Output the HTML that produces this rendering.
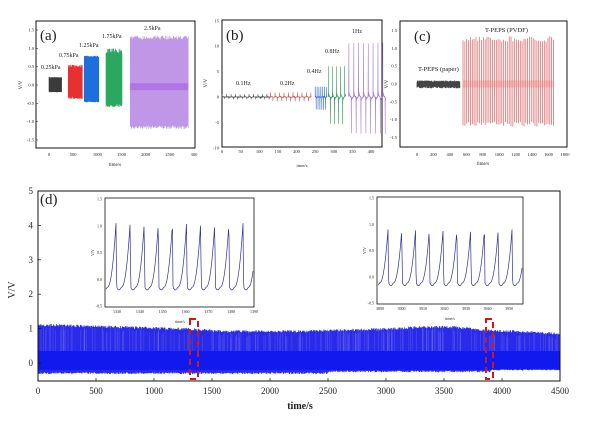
<!DOCTYPE html>
<html><head><meta charset="utf-8"><style>
body{margin:0;background:#fff;width:600px;height:426px;overflow:hidden}
svg{display:block}
text{font-family:"Liberation Serif",serif;fill:#222}
</style></head><body>
<svg id="s" width="600" height="426" xmlns="http://www.w3.org/2000/svg">
<g id="g"></g>
</svg>
<script>
(function(){
var NS="http://www.w3.org/2000/svg",G=document.getElementById('g');
var seed=7;function R(){seed=(seed*16807)%2147483647;return seed/2147483647;}
function el(t,a,txt){var e=document.createElementNS(NS,t);for(var k in a)e.setAttribute(k,a[k]);if(txt!=null)e.textContent=txt;G.appendChild(e);return e;}
function txt(x,y,s,fs,anc,extra){var a={x:x,y:y,'font-size':fs,'text-anchor':anc||'middle'};if(extra)for(var k in extra)a[k]=extra[k];return el('text',a,s);}
function frame(x0,y0,x1,y1,w){el('rect',{x:x0,y:y0,width:x1-x0,height:y1-y0,fill:'none',stroke:'#111','stroke-width':w||1});}
function path(d,c,w,o){el('path',{d:d,fill:'none',stroke:c,'stroke-width':w||0.5,'stroke-opacity':o==null?1:o});}
function mk(x0,xs,y0,ys){return {X:function(v){return x0+v*xs},Y:function(v){return y0-v*ys}};}
function band(A,t0,t1,n,hi,lo,col,w,op,jit){var d='';for(var i=0;i<n;i++){var t=t0+(t1-t0)*i/(n-1);var h=hi*(1-jit*R()),l=lo*(1-jit*R());d+='M'+A.X(t).toFixed(1)+' '+A.Y(h).toFixed(1)+'V'+A.Y(l).toFixed(1);}path(d,col,w,op);}

// ---------- (a) ----------
frame(36,21,195,148);
var A=mk(49,145/3000,85,110/3);
[1.5,1,0.5,0,-0.5,-1,-1.5].forEach(function(v){var y=A.Y(v);el('line',{x1:36,x2:38,y1:y,y2:y,stroke:'#111','stroke-width':0.5});txt(34,y+1.5,v.toFixed(1),4.5,'end');});
[0,500,1000,1500,2000,2500,3000].forEach(function(v){var x=A.X(v);txt(x,156,v==3000?'300':v,4.5);});
txt(115,166,'time/s',5);
txt(22,85,'V/V',5,'middle',{transform:'rotate(-90 22 85)'});
txt(40,40,'(a)',15,'start');
band(A,0,260,40,0.22,-0.2,'#3a3a3a',0.6,1,0.1);
band(A,400,690,70,0.55,-0.38,'#e83030',0.6,1,0.15);
band(A,730,1030,70,0.8,-0.47,'#1e6fdc',0.6,1,0.05);
band(A,1180,1510,70,1.0,-0.6,'#2aa860',0.6,1,0.15);
band(A,1680,2880,110,1.35,-1.2,'#b07ce0',0.6,0.8,0.08);
el('rect',{x:A.X(1680),y:A.Y(0.05),width:A.X(2880)-A.X(1680),height:7,fill:'#8a2be2','fill-opacity':0.3});
txt(41,69,'0.25kPa',6,'start');txt(59,57,'0.75kPa',6,'start');txt(79,47,'1.25kPa',6,'start');txt(102,38,'1.75kPa',6,'start');txt(144,30,'2.5kPa',6,'start');

// ---------- (b) ----------
frame(222,20,382,147);
var B=mk(222,149/400,97,127/25);
[15,10,5,0,-5,-10].forEach(function(v){var y=B.Y(v);txt(219,y+1.5,v,4.5,'end');});
[0,50,100,150,200,250,300,350,400].forEach(function(v){txt(B.X(v),153,v,4.5);});
txt(302,167,'time/s',4.5);
txt(207,83,'V/V',5,'middle',{transform:'rotate(-90 207 83)'});
txt(226,40,'(b)',15,'start');
function osc(t0,t1,per,hi,lo,col,step){var d='',first=true;for(var t=t0;t<=t1;t+=step){var ph=((t-t0)%per)/per;var v;
 if(ph<0.06)v=hi*(ph/0.06);else if(ph<0.12)v=hi*(1-(ph-0.06)/0.06)*0.1;else if(ph<0.5)v=0.1*hi*Math.exp(-(ph-0.12)*10);
 else if(ph<0.56)v=lo*((ph-0.5)/0.06);else if(ph<0.62)v=lo*(1-(ph-0.56)/0.06)*0.1;else v=0.1*lo*Math.exp(-(ph-0.62)*10);
 v+=(R()-0.5)*0.15;d+=(first?'M':'L')+B.X(t).toFixed(1)+' '+B.Y(v).toFixed(1);first=false;}path(d,col,0.6);}
osc(0,130,12,0.8,-0.6,'#555',0.5);
osc(130,240,12,1.3,-1.2,'#c86060',0.5);
osc(250,282,5,3,-2.5,'#3a70c8',0.2);
osc(285,332,11,8,-7,'#3a9a60',0.25);
osc(340,440,13,11,-7.5,'#a882c8',0.25);
txt(236,85,'0.1Hz',6,'start');txt(280,85,'0.2Hz',6,'start');txt(307,73,'0.4Hz',6,'start');txt(325,53,'0.8Hz',6,'start');txt(352,33,'1Hz',6,'start');

// ---------- (c) ----------
frame(400,21,567,147);
var C=mk(417,148/1800,84,107/3);
[1.5,1,0.5,0,-0.5,-1,-1.5].forEach(function(v){txt(397,C.Y(v)+1.5,v.toFixed(1),4.5,'end');});
[0,200,400,600,800,1000,1200,1400,1600,1800].forEach(function(v){txt(C.X(v),156,v,4.5);});
txt(483,165,'time/s',5);
txt(388,84,'V/V',5,'middle',{transform:'rotate(-90 388 84)'});
txt(414,41,'(c)',15,'start');
band(C,0,520,160,0.1,-0.12,'#444',0.8,1,0.6);
band(C,560,1660,50,1.35,-1.2,'#d86060',0.7,1,0.12);
el('rect',{x:C.X(560),y:C.Y(0.1),width:C.X(1660)-C.X(560),height:7,fill:'#f08080','fill-opacity':0.4});
txt(418,71,'T-PEPS (paper)',6.5,'start');txt(485,32,'T-PEPS (PVDF)',6.5,'start');

// ---------- (d) ----------
var D=mk(38,522/4500,363,172/5);
var kp=[[0,1.15],[500,1.1],[1000,1.05],[1300,1.02],[1600,0.95],[2200,0.95],[2500,0.98],[3000,1.02],[3300,1.08],[3600,1.08],[3800,1.0],[4100,0.95],[4500,0.88]];
function topAt(t){for(var j=1;j<kp.length;j++){if(t<=kp[j][0]){var a=kp[j-1],b=kp[j];return a[1]+(b[1]-a[1])*(t-a[0])/(b[0]-a[0]);}}return kp[kp.length-1][1];}
var d1='',d2='';
for(var i=0;i<900;i++){var t=i*5;var hiv=topAt(t);var lov=-0.27+(t>2500?0.05:0)+(t>3900?0.05:0);
 var x=D.X(t).toFixed(1);d1+='M'+x+' '+D.Y(hiv*(1-0.07*R())).toFixed(1)+'V'+D.Y(lov-0.05*R()).toFixed(1);}
path(d1,'#2a2aea',0.75,1);
for(var i=0;i<250;i++){var t=R()*4500;var x=D.X(t).toFixed(1);d2+='M'+x+' '+D.Y(topAt(t)-0.2*R()).toFixed(1)+'V'+D.Y(0.35).toFixed(1);}
path(d2,'#8080f0',0.4,0.6);
el('rect',{x:38,y:D.Y(0.35),width:522,height:D.Y(-0.2)-D.Y(0.35),fill:'#0010f0','fill-opacity':0.6});
frame(38,191,560,381,1);
[0,1,2,3,4,5].forEach(function(v){var y=D.Y(v);el('line',{x1:38,x2:41,y1:y,y2:y,stroke:'#111','stroke-width':0.7});txt(33,y+3,v,9,'end');});
[0,500,1000,1500,2000,2500,3000,3500,4000,4500].forEach(function(v){var x=D.X(v);el('line',{x1:x,x2:x,y1:381,y2:378,stroke:'#111','stroke-width':0.7});txt(x,394,v,9);});
txt(300,409,'time/s',10,'middle',{'font-weight':'bold'});
txt(15,290,'V/V',10,'middle',{transform:'rotate(-90 15 290)'});
txt(40,204,'(d)',15,'start');
[[190,198],[486,493]].forEach(function(b){el('rect',{x:b[0],y:319,width:b[1]-b[0],height:60,fill:'none',stroke:'#d01818','stroke-width':2,'stroke-dasharray':'6 4'});});
function inset(x0,y0,x1,y1,labels,lx0,lx1,pk0,pk1,ph,tr,tlabx,tlaby){
 el('rect',{x:x0,y:y0,width:x1-x0,height:y1-y0,fill:'#fff',stroke:'#111','stroke-width':0.8});
 var ys=(y1-y0-2)/2,yz=y0+1+1.5*ys;
 [1.5,1,0.5,0,-0.5].forEach(function(v){txt(x0-3,yz-v*ys+1.5,v.toFixed(1),4,'end');});
 labels.forEach(function(v,i){txt(lx0+(lx1-lx0)*i/(labels.length-1),y1+6,v,4);});
 txt(tlabx,tlaby,'time/s',4);
 txt(x0-11,(y0+y1)/2,'V/V',4,'middle',{transform:'rotate(-90 '+(x0-11)+' '+(y0+y1)/2+')'});
 var sp=(pk1-pk0)/9,d='',first=true;
 for(var x=x0+1;x<=x1-1;x+=0.5){var ph2=((x-pk0)%sp+sp)%sp/sp;var v;
  if(ph2<0.04)v=ph-(ph-tr)*(ph2/0.04); else {var q=(ph2-0.04)/0.96; v=tr+(q<0.35?(-0.05)*Math.sin(q/0.35*Math.PI):0)+(q>0.35?(ph-tr)*Math.pow((q-0.35)/0.65,2.2):0);}
  d+=(first?'M':'L')+x.toFixed(1)+' '+(yz-v*ys).toFixed(1);first=false;}
 path(d,'#30309a',0.7);
}
inset(105,198,254,307,['1330','1340','1350','1360','1370','1380','1390'],117,254,116,243,1.05,-0.15,180,323);
inset(377,197,523,304,['3890','3900','3910','3920','3930','3940','3950'],380,509,388,512,0.9,-0.12,450,320);
})();
</script>
</body></html>
